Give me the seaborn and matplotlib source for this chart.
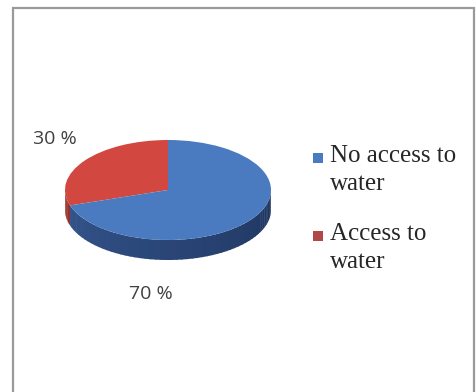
import numpy as np
import matplotlib
matplotlib.use("Agg")
import matplotlib.pyplot as plt
from matplotlib.patches import Rectangle
from matplotlib.colors import to_rgb
import seaborn as sns

# ---- data ----
categories = ["No access to water", "Access to water"]
legend_labels = ["No access to\nwater", "Access to\nwater"]
values = [70, 30]
pct_labels = ["70 %", "30 %"]

sns.set_theme(style="white")

W, H = 476, 392
fig = plt.figure(figsize=(W / 100, H / 100), dpi=100)
fig.patch.set_facecolor("white")

top_colors = {"No access to water": "#4A7AC0", "Access to water": "#D2473F"}
side_light = {"No access to water": "#35568E", "Access to water": "#9A332E"}
side_dark = {"No access to water": "#1F355F", "Access to water": "#6E2220"}

# frame
fig.patches.append(Rectangle((13 / W, -0.05), (474 - 13) / W, (H - 8) / H + 0.05,
                             transform=fig.transFigure, fill=False,
                             edgecolor="#9A9A9A", linewidth=1.6))

# pie axes: x -1..1 -> px 65..271 ; y scale 50 px/unit, center at px y=190
a_px, b_px = 103, 50
cx, cy = 168, 190
ytop, ybot = 1.0, -1.6
left = (cx - a_px) / W
width = 2 * a_px / W
top_px = cy - b_px * ytop
bot_px = cy - b_px * ybot
ax = fig.add_axes([left, (H - bot_px) / H, width, (bot_px - top_px) / H])
ax.set_axis_off()

depth = 0.4
order = ["Access to water", "No access to water"]
vals = [values[categories.index(c)] for c in order]
total = sum(vals)
start = 90.0
spans = []
for c, v in zip(order, vals):
    end = start + 360.0 * v / total
    spans.append((c, start, end))
    start = end

# side walls (front half only: 180..360 deg), shaded strips
for c, s, e in spans:
    c1, c2 = np.array(to_rgb(side_light[c])), np.array(to_rgb(side_dark[c]))
    for off in (0, 360):
        lo = max(s, 180 + off)
        hi = min(e, 360 + off)
        if hi > lo:
            edges = np.linspace(lo, hi, max(2, int(hi - lo) // 3 + 2))
            for a0, a1 in zip(edges[:-1], edges[1:]):
                frac = ((a0 + a1) / 2 - off - 180) / 180.0
                col = c1 * (1 - frac) + c2 * frac
                t = np.radians(np.linspace(a0, a1 + 0.6, 8))
                xs = np.concatenate([np.cos(t), np.cos(t[::-1])])
                ys = np.concatenate([np.sin(t), np.sin(t[::-1]) - depth])
                ax.fill(xs, ys, color=col, linewidth=0, zorder=1)

wedges, _ = ax.pie(vals, startangle=90, counterclock=True,
                   colors=[top_colors[c] for c in order],
                   wedgeprops=dict(linewidth=0), radius=1.0)
for w in wedges:
    w.set_zorder(2)
ax.set_aspect("auto")
ax.set_xlim(-1, 1)
ax.set_ylim(ybot, ytop)

# percentage labels
lab_font = dict(family="Open Sans", fontsize=14, color="#404040")
fig.text(55 / W, 1 - 139 / H, pct_labels[1], ha="center", va="center", **lab_font)
fig.text(151 / W, 1 - 294 / H, pct_labels[0], ha="center", va="center", **lab_font)

# legend
leg_font = dict(family="Liberation Serif", fontsize=18, color="#262626")
leg_y = [158, 236]
for lbl, c, y in zip(legend_labels, categories, leg_y):
    fig.patches.append(Rectangle((313 / W, 1 - (y + 5) / H), 10 / W, 10 / H,
                                 transform=fig.transFigure,
                                 facecolor=top_colors[c] if c != "Access to water" else "#B0484A",
                                 edgecolor="none"))
    fig.text(330 / W, 1 - (y - 13) / H, lbl, ha="left", va="top",
             linespacing=1.35, **leg_font)

fig.savefig("out.png", dpi=100, facecolor="white")
